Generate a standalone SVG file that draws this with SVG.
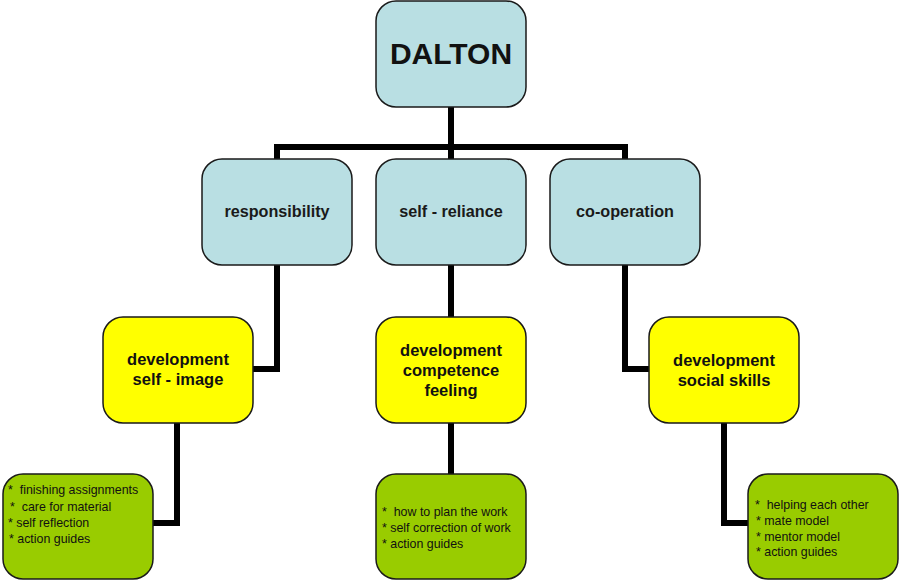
<svg xmlns="http://www.w3.org/2000/svg" width="900" height="582" viewBox="0 0 900 582">
<style>
.box{stroke:#1a1a1a;stroke-width:1.5}
.blue{fill:#B9DFE3}
.yellow{fill:#FFFF00}
.green{fill:#99CC00}
.conn{fill:none;stroke:#000;stroke-width:6;stroke-linejoin:miter;stroke-linecap:butt}
text{font-family:"Liberation Sans",Arial,sans-serif;fill:#111}
.title{font-size:30px;font-weight:bold;text-anchor:middle}
.mid{font-size:16.2px;font-weight:bold;text-anchor:middle;fill:#1a1a1a}
.dev{font-size:16.5px;font-weight:bold;text-anchor:middle}
.small{font-size:12.4px}
</style>
<rect width="900" height="582" fill="#fff"/>
<g id="connectors">
<path class="conn" d="M451 107 V147"/>
<path class="conn" d="M274 147 H628"/>
<path class="conn" d="M277 147 V159 M451 147 V159 M625 147 V159"/>
<path class="conn" d="M277 265 V369 H253"/>
<path class="conn" d="M451 265 V317"/>
<path class="conn" d="M625 265 V369 H649"/>
<path class="conn" d="M177 423 V523 H153"/>
<path class="conn" d="M451 423 V474"/>
<path class="conn" d="M724 423 V523 H748"/>
</g>
<g id="dalton">
<rect class="box blue" x="376" y="1" width="150" height="106" rx="20"/>
<text class="title" x="451" y="64">DALTON</text>
</g>
<g id="responsibility">
<rect class="box blue" x="202" y="159" width="150" height="106" rx="20"/>
<text class="mid" x="277" y="217">responsibility</text>
</g>
<g id="self-reliance">
<rect class="box blue" x="376" y="159" width="150" height="106" rx="20"/>
<text class="mid" x="451" y="217">self - reliance</text>
</g>
<g id="co-operation">
<rect class="box blue" x="550" y="159" width="150" height="106" rx="20"/>
<text class="mid" x="625" y="217">co-operation</text>
</g>
<g id="dev-self-image">
<rect class="box yellow" x="103" y="317" width="150" height="106" rx="20"/>
<text class="dev" x="178" y="365">development</text>
<text class="dev" x="178" y="385">self - image</text>
</g>
<g id="dev-competence">
<rect class="box yellow" x="376" y="317" width="150" height="106" rx="20"/>
<text class="dev" x="451" y="356">development</text>
<text class="dev" x="451" y="376">competence</text>
<text class="dev" x="451" y="396">feeling</text>
</g>
<g id="dev-social">
<rect class="box yellow" x="649" y="317" width="150" height="106" rx="20"/>
<text class="dev" x="724" y="366">development</text>
<text class="dev" x="724" y="386">social skills</text>
</g>
<g id="green-left">
<rect class="box green" x="3" y="474" width="150" height="105" rx="20"/>
<text class="small" x="8" y="494" xml:space="preserve">*  finishing assignments</text>
<text class="small" x="10" y="511" xml:space="preserve">*  care for material</text>
<text class="small" x="8" y="527">* self reflection</text>
<text class="small" x="9" y="543">* action guides</text>
</g>
<g id="green-middle">
<rect class="box green" x="376" y="474" width="150" height="105" rx="20"/>
<text class="small" x="382" y="516" xml:space="preserve">*  how to plan the work</text>
<text class="small" x="382" y="532">* self correction of work</text>
<text class="small" x="382" y="548">* action guides</text>
</g>
<g id="green-right">
<rect class="box green" x="748" y="474" width="150" height="105" rx="20"/>
<text class="small" x="755" y="509" xml:space="preserve">*  helping each other</text>
<text class="small" x="756" y="525">* mate model</text>
<text class="small" x="756" y="541">* mentor model</text>
<text class="small" x="756" y="556">* action guides</text>
</g>
</svg>
